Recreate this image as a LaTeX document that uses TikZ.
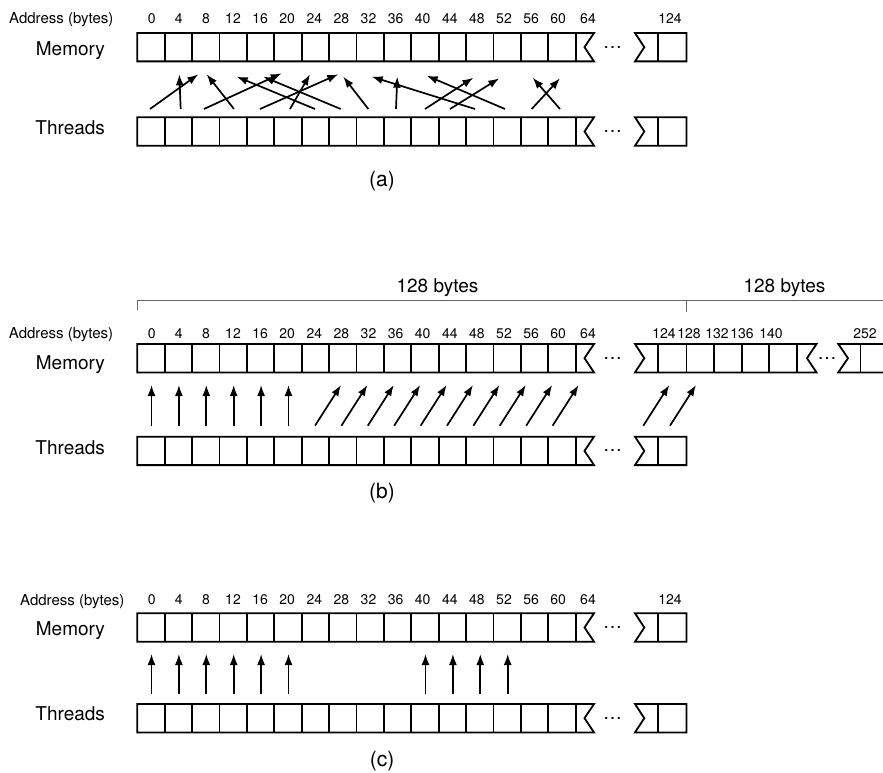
\documentclass[tikz,border=0pt]{standalone}
\usepackage{fontspec}
\setmainfont{TeX Gyre Heros}
\usetikzlibrary{arrows.meta}

\begin{document}
\begin{tikzpicture}[x=1pt, y=-1pt, >={Latex[length=11pt,width=8pt]},
    cellline/.style={line width=1.8pt, line join=miter},
    access/.style={->, line width=1.7pt},
    segline/.style={line width=0.9pt, black!60},
    rowlabel/.style={anchor=base east, font=\fontsize{19}{21}\selectfont},
    addrlabel/.style={anchor=base east, font=\fontsize{15}{17}\selectfont},
    byteoff/.style={anchor=base, font=\fontsize{14}{16}\selectfont},
    panelcap/.style={font=\fontsize{21}{23}\selectfont},
    gapdots/.style={font=\fontsize{19}{21}\selectfont, inner sep=0pt}]
    \useasboundingbox (0,0) rectangle (883,773);

    % Cell strips: 16 cells with a torn end, dots, then the tail cell
    \foreach \t/\r in {33/am, 117.3/at, 344/bm, 436.7/bt, 613.3/cm, 704/ct} {
        \draw[cellline] (594,\t) -- (137.3,\t) -- (137.3,\t+28.4) -- (594,\t+28.4)
            -- (584.5,\t+14.2) -- cycle;
        \foreach \k in {1,...,16}
            \draw[cellline] (137.3+27.4*\k,\t) -- ++(0,28.4);
        \node[gapdots] (\r-dots) at (612.5,\t+14.2) {…};
    }
    \foreach \t in {33, 117.3, 436.7, 613.3, 704} {
        \draw[cellline] (635,\t) -- (686.5,\t) -- (686.5,\t+28.4) -- (635,\t+28.4)
            -- (644.3,\t+14.2) -- cycle;
        \draw[cellline] (658,\t) -- ++(0,28.4);
    }

    % (b) memory runs on into the next 128-byte segment
    \draw[cellline] (635,344) -- (816.5,344) -- (807,358.2) -- (816.5,372.4)
        -- (635,372.4) -- (644.3,358.2) -- cycle;
    \foreach \x in {658, 686.5, 714, 741.7, 769.3, 796.7}
        \draw[cellline] (\x,344) -- ++(0,28.4);
    \node[gapdots] (bm-dots2) at (827,358.2) {…};
    \draw[cellline] (883,344) -- (838.3,344) -- (848,358.2) -- (838.3,372.4) -- (883,372.4);
    \draw[cellline] (860.5,344) -- ++(0,28.4);

    % Byte offsets above the memory cells
    \foreach \y/\p in {23.3/a, 338.5/b, 604.5/c} {
        \foreach \k [evaluate=\k as \b using int(4*\k)] in {0,...,15}
            \node[byteoff] (\p-n\k) at (151.7+27.1*\k,\y) {\b};
        \node[byteoff] (\p-n16) at (588,\y) {64};
    }
    \node[byteoff] (a-n31) at (670,23.3) {124};
    \node[byteoff] (c-n31) at (670,604.5) {124};
    \foreach \k/\x/\b in {31/664/124, 32/689/128, 33/717/132, 34/742/136, 35/771/140, 63/865/252}
        \node[byteoff] (b-n\k) at (\x,338.5) {\b};

    % Row labels and captions
    \foreach \p/\ya/\ym/\yt/\xa/\yc in {a/23.3/56/135/117/181, b/338.5/369/454/116.7/493, c/605/635/720/128/761.5} {
        \node[addrlabel] (\p-addr) at (\xa,\ya) {Address (bytes)};
        \node[rowlabel] (\p-mem) at (108.5,\ym) {Memory};
        \node[rowlabel] (\p-thr) at (108.5,\yt) {Threads};
        \node[panelcap] (\p-cap) at (382,\yc) {(\p)};
    }

    % 128-byte segments
    \draw[segline] (137.3,309.5) -- (137.3,300) -- (883,300);
    \draw[segline] (686,300) -- (686,311.7);
    \node[rowlabel, anchor=base] (b-seg1) at (437.5,292.5) {128 bytes};
    \node[rowlabel, anchor=base] (b-seg2) at (784.5,292.5) {128 bytes};

    % (a) permuted accesses
    \foreach \i/\s/\ex/\ey in {0/150/198.3/74.3, 1/180.7/179.3/74.3, 2/204/281.7/73.3,
            3/234/206.7/74.3, 4/260/338.3/74.3, 5/290/310/74.3, 6/315/236.7/76.7,
            7/340.7/263.3/76.7, 8/368.3/343.3/76.7, 9/396/397.3/76.7,
            10/425/473.3/77.7, 11/450/499.3/78.3, 12/475/371.7/76.7,
            13/505/426.7/75.7, 14/531.7/560/78.3, 15/560/532.7/77.7} {
        \coordinate (a-from\i) at (\s,109);
        \coordinate (a-to\i) at (\ex,\ey);
        \draw[access] (a-from\i) -- (a-to\i);
    }

    % (b) misaligned sequential accesses
    \foreach \i in {0,...,5} {
        \coordinate (b-from\i) at (151.5+27.4*\i,425.7);
        \coordinate (b-to\i) at (151.5+27.4*\i,385);
        \draw[access] (b-from\i) -- (b-to\i);
    }
    \foreach \i in {6,...,15} {
        \coordinate (b-from\i) at (315+26.4*\i-158.4,425.7);
        \coordinate (b-to\i) at (341+26.4*\i-158.4,385);
        \draw[access] (b-from\i) -- (b-to\i);
    }
    \foreach \i/\s in {30/643.3, 31/670} {
        \coordinate (b-from\i) at (\s,425.7);
        \coordinate (b-to\i) at (\s+26,385);
        \draw[access] (b-from\i) -- (b-to\i);
    }

    % (c) aligned accesses, some threads idle
    \foreach \i in {0,1,2,3,4,5,10,11,12,13} {
        \coordinate (c-from\i) at (151.5+27.4*\i,694.3);
        \coordinate (c-to\i) at (151.5+27.4*\i,654);
        \draw[access] (c-from\i) -- (c-to\i);
    }
\end{tikzpicture}
\end{document}
